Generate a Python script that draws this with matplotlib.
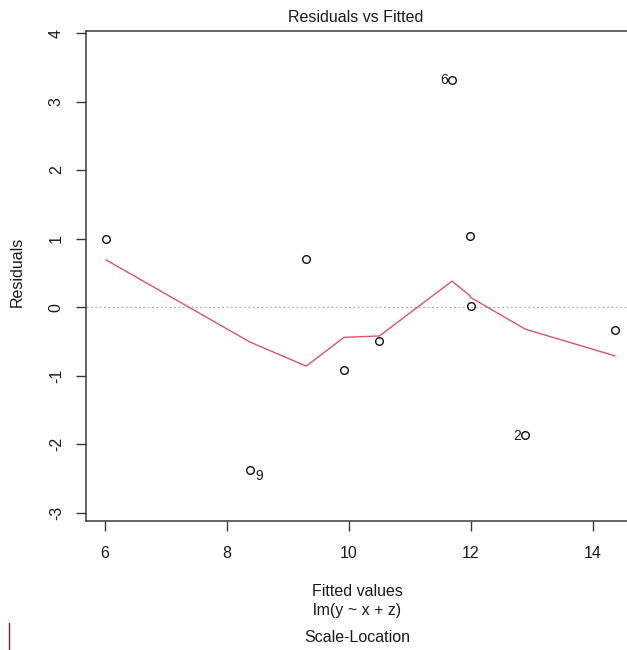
import numpy as np
from matplotlib import pyplot as plt
from matplotlib.lines import Line2D

# values
fitted = [6.02, 8.38, 9.30, 9.92, 10.50, 11.69, 11.98, 12.00, 12.89, 14.36]
residuals = [0.99, -2.37, 0.70, -0.91, -0.50, 3.32, 1.04, 0.01, -1.87, -0.33]
smooth_y = [0.69, -0.51, -0.86, -0.44, -0.42, 0.38, 0.17, 0.14, -0.32, -0.71]
labelled = {5: '6', 8: '2', 1: '9'}
x_ticks = [6, 8, 10, 12, 14]
y_ticks = [-3, -2, -1, 0, 1, 2, 3, 4]

plt.rcParams['font.family'] = ['Liberation Sans', 'DejaVu Sans']
txt = '#1a1a1a'
axc = '#3a3a3a'

fig = plt.figure(figsize=(6.27, 6.5), dpi=100)
ax = fig.add_axes([86 / 627, 129 / 650, 549 / 627, 490 / 650])

ax.axhline(0, color='#b0b0b0', lw=0.9, ls=(0, (1.5, 2)), zorder=1)
ax.plot(fitted, smooth_y, color='#DF536B', lw=1.0, zorder=2)
ax.plot(fitted, residuals, 'o', mfc='none', mec='#111111', mew=1.0, ms=5.5, zorder=3)

for i, lab in labelled.items():
    if lab == '9':
        ax.annotate(lab, (fitted[i], residuals[i]), xytext=(3.5, -4.5), textcoords='offset points',
                    ha='left', va='center', fontsize=10, color=txt)
    else:
        ax.annotate(lab, (fitted[i], residuals[i]), xytext=(-3, -0.5), textcoords='offset points',
                    ha='right', va='center', fontsize=10, color=txt)

ax.set_xlim(5.69, 14.69)
ax.set_ylim(-3.12, 4.03)
ax.set_xticks(x_ticks)
ax.set_yticks(y_ticks)
ax.set_yticklabels([str(v) for v in y_ticks], rotation=90, va='center')
ax.tick_params(axis='both', length=7, width=1.0, color=axc, labelcolor=txt, labelsize=11.5)
ax.tick_params(axis='x', pad=11)
ax.tick_params(axis='y', pad=9)
for s in ax.spines.values():
    s.set_color(axc)
    s.set_linewidth(1.1)

fig.text(356 / 627, 1 - 17 / 650, 'Residuals vs Fitted', ha='center', va='center', fontsize=11.5, color=txt)
fig.text(17 / 627, 1 - 272 / 650, 'Residuals', rotation=90, ha='center', va='center', fontsize=11.5, color=txt)
fig.text(357 / 627, 1 - 592 / 650, 'Fitted values', ha='center', va='center', fontsize=11.5, color=txt)
fig.text(357 / 627, 1 - 611 / 650, 'lm(y ~ x + z)', ha='center', va='center', fontsize=11.5, color=txt)
fig.text(357 / 627, 1 - 638 / 650, 'Scale-Location', ha='center', va='center', fontsize=11.5, color=txt)
fig.add_artist(Line2D([8.5 / 627, 8.5 / 627], [0, 27 / 650], color='#7a1f2b', lw=1.0))

fig.savefig('out.png', dpi=100)
